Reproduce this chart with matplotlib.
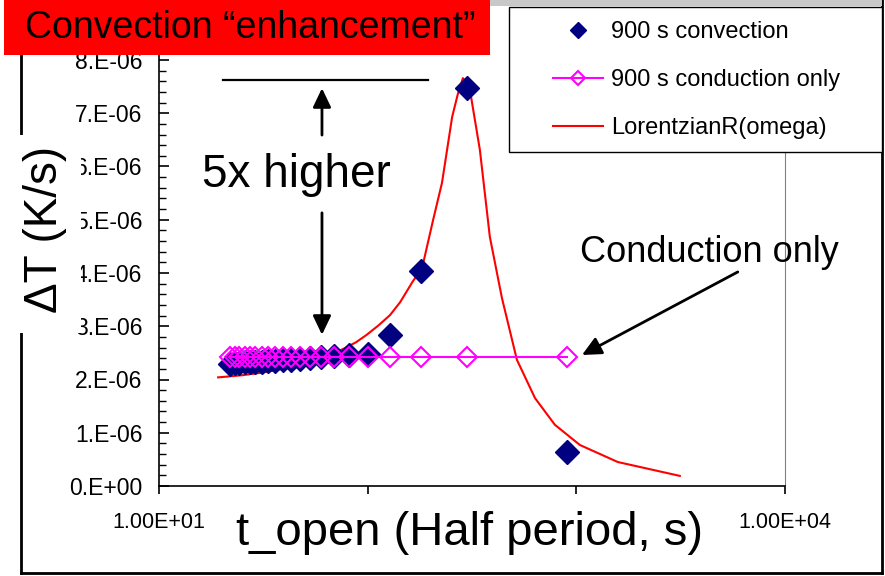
import matplotlib
matplotlib.use('Agg')
import matplotlib.pyplot as plt
from matplotlib.patches import Rectangle
from matplotlib.lines import Line2D
from matplotlib.ticker import FixedLocator, FuncFormatter, MultipleLocator

plt.rcParams['font.family'] = ['Liberation Sans', 'DejaVu Sans']

W, H = 885, 576

# half period t_open (s)
t_open = [900, 300, 180, 128.6, 100, 81.8, 69.2, 60.0, 52.9, 47.4, 42.9,
          39.1, 36.0, 33.3, 31.0, 29.0, 27.3, 25.7, 24.3, 23.1, 22.0]
# dT rates, units of 1e-6 K/s
rate_convection = [0.64, 7.47, 4.04, 2.84, 2.48, 2.46, 2.44, 2.42, 2.40, 2.38, 2.37,
                   2.36, 2.35, 2.34, 2.33, 2.33, 2.32, 2.32, 2.31, 2.31, 2.30]
rate_conduction = [2.43, 2.43, 2.43, 2.43, 2.43, 2.43, 2.43, 2.43, 2.43, 2.43, 2.43,
                   2.43, 2.43, 2.43, 2.43, 2.43, 2.43, 2.43, 2.43, 2.43, 2.43]
# fitted curve
lor_t = [19.2, 22, 25, 30, 36, 43, 52, 63, 76, 88, 99, 113, 128, 143, 165, 182,
         206, 227, 254, 270, 286, 309, 345, 385, 440, 519, 634, 789, 1040, 1581, 3133]
lor_rate = [2.04, 2.06, 2.08, 2.12, 2.17, 2.24, 2.33, 2.44, 2.57, 2.70, 2.84, 3.02,
            3.21, 3.45, 3.85, 4.08, 5.00, 5.69, 6.93, 7.35, 7.66, 7.44, 6.31, 4.68,
            3.53, 2.37, 1.65, 1.15, 0.77, 0.45, 0.19]
labels = ['900 s convection', '900 s conduction only', 'LorentzianR(omega)']

scale = 1e-6


def fpos(x, y):
    # pixel position -> figure fraction
    return x / W, 1 - y / H


fig = plt.figure(figsize=(W / 100, H / 100), dpi=100)
ax = fig.add_axes([159 / W, 1 - 486 / H, (785 - 159) / W, 8.2 * 53.25 / H])
ax.set_xscale('log')
ax.set_xlim(10, 10000)
ax.set_ylim(0, 8.2e-6)

l_fit, = ax.plot(lor_t, [v * scale for v in lor_rate], color='red', lw=1.5, zorder=2)
l_conv, = ax.plot(t_open, [v * scale for v in rate_convection], ls='none', marker='D',
                  ms=12, color='#000080', zorder=3)
l_cond, = ax.plot(t_open, [v * scale for v in rate_conduction], color='magenta', lw=1.5,
                  marker='D', ms=10.5, mfc='none', mec='magenta', mew=1.5, zorder=4)

# axes styling
ax.spines['top'].set_visible(False)
ax.spines['right'].set_color('#808080')
ax.spines['left'].set_linewidth(1.2)
ax.spines['bottom'].set_linewidth(1.2)
ax.yaxis.set_major_locator(MultipleLocator(1e-6))
ax.yaxis.set_minor_locator(MultipleLocator(0.2e-6))
ax.yaxis.set_major_formatter(FuncFormatter(
    lambda v, p: '0.E+00' if abs(v) < 1e-12 else f'{v * 1e6:.0f}.E-06'))
ax.tick_params(axis='y', which='both', direction='in', labelsize=16.5, pad=12)
ax.tick_params(axis='y', which='major', length=7, width=1.2)
ax.tick_params(axis='y', which='minor', length=5, width=1)

ax.xaxis.set_major_locator(FixedLocator([10, 100, 1000, 10000]))
ax.xaxis.set_minor_locator(FixedLocator([]))
ax.xaxis.set_major_formatter(FuncFormatter(
    lambda v, p: {10: '1.00E+01', 10000: '1.00E+04'}.get(int(round(v)), '')))
ax.tick_params(axis='x', which='major', direction='out', length=6, width=1.2,
               labelsize=15.5, pad=13)

# annotations
ax.plot([20.3, 194.5], [7.62e-6, 7.62e-6], color='black', lw=1.6, clip_on=False)
arrow = dict(arrowstyle='-|>,head_length=1.15,head_width=0.55', color='black', lw=2,
             shrinkA=0, shrinkB=0, mutation_scale=10)
ax.annotate('', xy=(60.4, 7.47e-6), xytext=(60.4, 6.59e-6), arrowprops=arrow)
ax.annotate('', xy=(60.4, 2.84e-6), xytext=(60.4, 5.13e-6), arrowprops=arrow)
ax.text(45.3, 5.84e-6, '5x higher', fontsize=33, ha='center', va='center')
ax.annotate('', xy=(1064, 2.46e-6), xytext=(5940, 4.02e-6), arrowprops=arrow,
            annotation_clip=False)
ax.text(4365, 4.38e-6, 'Conduction only', fontsize=26, ha='center', va='center',
        clip_on=False)

# legend with its own frame
fig.patches.append(Rectangle(fpos(509, 152), 373 / W, 145 / H, transform=fig.transFigure,
                             facecolor='white', edgecolor='black', lw=1, zorder=1))
fig.legend([l_conv, l_cond, l_fit], labels, loc='upper left',
           bbox_to_anchor=fpos(553, 21), bbox_transform=fig.transFigure,
           frameon=False, borderpad=0, borderaxespad=0, fontsize=17,
           handlelength=2.12, handletextpad=0.34, labelspacing=1.1,
           markerscale=0.7, numpoints=1)

# slide frame
for xs, ys in [([21, 21], [573, 0]), ([21, 882], [573, 573]), ([882, 882], [573, 0])]:
    fig.add_artist(Line2D([x / W for x in xs], [1 - y / H for y in ys], color='black',
                          lw=2, zorder=0.8, transform=fig.transFigure))
fig.patches.append(Rectangle(fpos(490, 6), 392 / W, 6 / H, transform=fig.transFigure,
                             facecolor='#c8c8c8', edgecolor='none', zorder=0.9))

# y label with white backing
fig.patches.append(Rectangle(fpos(14, 333), 67 / W, 198 / H, transform=fig.transFigure,
                             facecolor='white', edgecolor='none', zorder=1))
fig.text(45 / W, 1 - 229 / H, 'ΔT (K/s)', rotation=90, fontsize=33,
         ha='center', va='center', zorder=2)
fig.text(470 / W, 1 - 533 / H, 't_open (Half period, s)', fontsize=34,
         ha='center', va='center')

# red headline box
fig.patches.append(Rectangle(fpos(4, 55), 486 / W, 55 / H, transform=fig.transFigure,
                             facecolor='#ff0000', edgecolor='none', zorder=3))
fig.text(25 / W, 1 - 28 / H, 'Convection \u201cenhancement\u201d', fontsize=27,
         ha='left', va='center', zorder=4)

fig.savefig('out.png', dpi=100)
